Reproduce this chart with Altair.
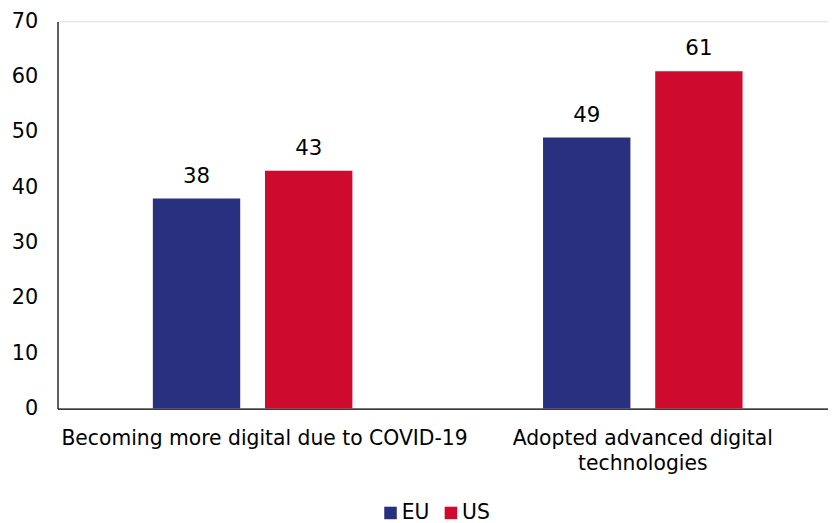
import altair as alt
import pandas as pd

categories = ["Becoming more digital due to COVID-19", "Adopted advanced digital technologies"]
series = ["EU", "US"]
eu_values = [38, 49]
us_values = [43, 61]
colors = ["#29307f", "#cf0a2f"]

rows = []
for i, c in enumerate(categories):
    rows.append({"category": c, "series": "EU", "value": eu_values[i]})
    rows.append({"category": c, "series": "US", "value": us_values[i]})
df = pd.DataFrame(rows)

FONT = "DejaVu Sans"

x = alt.X(
    "category:N",
    sort=categories,
    title=None,
    scale=alt.Scale(paddingInner=0, paddingOuter=0),
    axis=alt.Axis(
        labelAngle=0,
        labelFontSize=20.5,
        labelFont=FONT,
        labelColor="#000000",
        labelPadding=20,
        labelLimit=500,
        labelLineHeight=26,
        labelOffset={
            "condition": {"test": "datum.value == 'Becoming more digital due to COVID-19'", "value": 12},
            "value": 0,
        },
        ticks=False,
        domainColor="#000000",
        domainWidth=1.2,
        labelExpr="datum.value == 'Adopted advanced digital technologies' ? ['Adopted advanced digital', 'technologies'] : datum.value",
    ),
)
xo = alt.XOffset(
    "series:N",
    sort=series,
    scale=alt.Scale(paddingInner=0.221, paddingOuter=0.85),
)
y = alt.Y(
    "value:Q",
    title=None,
    scale=alt.Scale(domain=[0, 70]),
    axis=alt.Axis(
        values=[0, 10, 20, 30, 40, 50, 60, 70],
        grid=False,
        ticks=False,
        labelFontSize=21,
        labelFont=FONT,
        labelColor="#000000",
        labelPadding=20,
        domainColor="#000000",
        domainWidth=1.2,
    ),
)

color = alt.Color(
    "series:N",
    sort=series,
    scale=alt.Scale(domain=series, range=colors),
    legend=alt.Legend(
        title=None,
        orient="none",
        direction="horizontal",
        legendX=326,
        legendY=486,
        symbolType="square",
        symbolSize=160,
        symbolStrokeWidth=0,
        labelFontSize=20.5,
        labelFont=FONT,
        labelColor="#000000",
        columnPadding=11,
        labelOffset=1,
    ),
)

bars = alt.Chart(df).mark_bar().encode(x=x, xOffset=xo, y=y, color=color)
labels = alt.Chart(df).mark_text(
    dy=-22, fontSize=21.5, font=FONT, color="#000000"
).encode(x=x, xOffset=xo, y=y, text=alt.Text("value:Q"))

chart = (
    alt.layer(bars, labels)
    .properties(
        width=788,
        height=391,
        padding={"left": 50, "top": 11, "right": -10, "bottom": 113},
        autosize=alt.AutoSizeParams(type="none"),
    )
    .configure_view(stroke="transparent", strokeWidth=0)
    .configure(background="#ffffff")
)

chart.save("out.html", embed_options={"renderer": "svg", "actions": False})
